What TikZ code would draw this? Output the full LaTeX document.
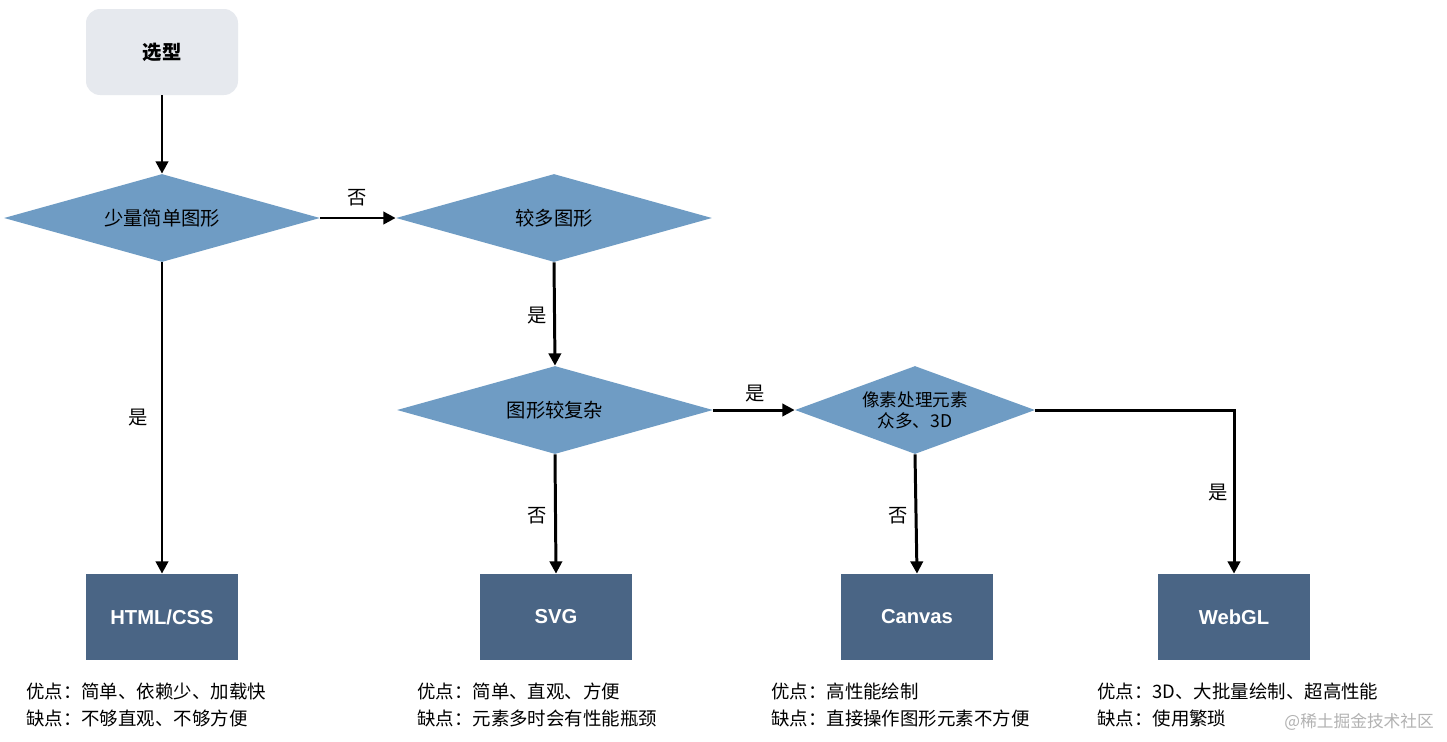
\documentclass[tikz,border=0pt]{standalone}
\usepackage{fontspec}
\setmainfont{Noto Sans CJK SC}
\usetikzlibrary{shapes.geometric,arrows.meta}
\definecolor{startc}{HTML}{E6E9EE}
\definecolor{diac}{HTML}{6F9CC4}
\definecolor{boxc}{HTML}{4A6585}
\tikzset{
  start/.style={rounded corners=8pt,fill=startc,minimum width=152*0.02cm,minimum height=86*0.02cm,font=\fontsize{11}{13}\selectfont\bfseries},
  dia/.style={diamond,fill=diac,inner sep=0pt,aspect=3.6,minimum width=#1*0.02cm,minimum height=88*0.02cm,font=\fontsize{11}{13}\selectfont,align=center},
  res/.style={fill=boxc,text=white,minimum width=152*0.02cm,minimum height=86*0.02cm,font=\fontsize{11.5}{13}\selectfont\bfseries\sffamily},
  arr/.style={line width=1.7pt,-{Triangle[length=7pt,width=7pt]}},
  lab/.style={font=\fontsize{11}{13}\selectfont},
  note/.style={anchor=west,align=left,font=\fontsize{10.5}{15}\selectfont}
}
\setsansfont{Liberation Sans}
\begin{document}
\begin{tikzpicture}[x=0.02cm,y=-0.02cm]
\useasboundingbox[fill=white] (0,0) rectangle (1447,741);
\node[start] (s) at (162,52) {选型};
\node[dia=316] (d1) at (162,218) {少量简单图形};
\node[dia=316] (d2) at (554,218) {较多图形};
\node[dia=316] (d3) at (555,410) {图形较复杂};
\node[dia=240,font=\fontsize{10}{12}\selectfont] (d4) at (915,410) {像素处理元素\\众多、3D};
\node[res] (b1) at (162,617) {HTML/CSS};
\node[res] (b2) at (556,617) {SVG};
\node[res] (b3) at (917,617) {Canvas};
\node[res] (b4) at (1234,617) {WebGL};
\coordinate (c4) at (1234,410);
\draw[arr] (s) -- (d1);
\draw[arr] (d1.east) -- (d2.west);
\draw[arr] (d2.south) -- (d3.north);
\draw[arr] (d3.east) -- (d4.west);
\draw[arr] (d1.south) -- (b1.north);
\draw[arr] (d3.south) -- (b2.north);
\draw[arr] (d4.south) -- (b3.north);
\draw[arr] (d4.east) -- (c4) -- (b4.north);
\node[lab] at (357,198) {否};
\node[lab] at (537,316) {是};
\node[lab] at (138,418) {是};
\node[lab] at (755,394) {是};
\node[lab] at (537,516) {否};
\node[lab] at (898,516) {否};
\node[lab] at (1218,493) {是};
\node[note] at (20,705) {优点：简单、依赖少、加载快\\缺点：不够直观、不够方便};
\node[note] at (411,705) {优点：简单、直观、方便\\缺点：元素多时会有性能瓶颈};
\node[note] at (765,705) {优点：高性能绘制\\缺点：直接操作图形元素不方便};
\node[note] at (1091,705) {优点：3D、大批量绘制、超高性能\\缺点：使用繁琐};
\node[anchor=east,text=gray!60,font=\fontsize{9.5}{11}\selectfont] at (1440,722) {@稀土掘金技术社区};
\end{tikzpicture}
\end{document}
